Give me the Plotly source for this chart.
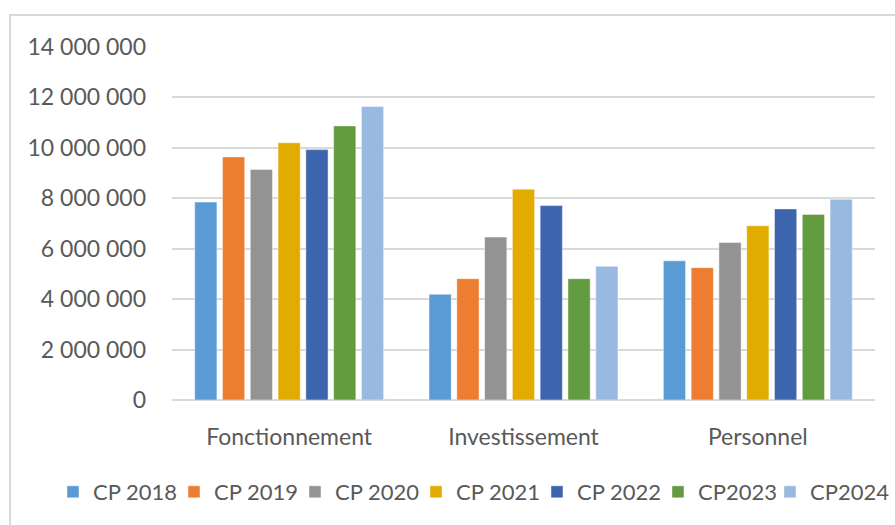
import plotly.graph_objects as go

categories = ["Fonctionnement", "Investissement", "Personnel"]
series_names = ["CP 2018", "CP 2019", "CP 2020", "CP 2021", "CP 2022", "CP2023", "CP2024"]
cp2018 = [7850000, 4190000, 5520000]
cp2019 = [9640000, 4810000, 5250000]
cp2020 = [9140000, 6460000, 6250000]
cp2021 = [10200000, 8360000, 6910000]
cp2022 = [9930000, 7710000, 7580000]
cp2023 = [10870000, 4810000, 7360000]
cp2024 = [11640000, 5300000, 7960000]
series_values = [cp2018, cp2019, cp2020, cp2021, cp2022, cp2023, cp2024]
colors = ["#5B9BD5", "#ED7D31", "#939393", "#E2AB00", "#3D65AE", "#629B40", "#98BAE0"]
legend_widths = [76, 76, 76, 76, 76, 67, 82]

tick_vals = [0, 2000000, 4000000, 6000000, 8000000, 10000000, 12000000, 14000000]

FONT = "Lato"
TXT = "#595959"

fig = go.Figure()
for name, vals, col, lw in zip(series_names, series_values, colors, legend_widths):
    fig.add_trace(go.Bar(
        name=name, x=categories, y=vals, legendwidth=lw,
        marker=dict(color=col, line=dict(color="rgba(255,255,255,0.45)", width=1)),
    ))

fig.update_layout(
    width=895, height=525,
    margin=dict(l=172, r=20, t=47, b=125, autoexpand=False),
    paper_bgcolor="white", plot_bgcolor="white",
    barmode="group", bargap=0.17, bargroupgap=0.2,
    separators=", ",
    font=dict(family=FONT, color=TXT, size=23),
    showlegend=True,
    legend=dict(orientation="h", x=-0.1693, xanchor="left", y=-0.2606, yanchor="middle",
                font=dict(family=FONT, size=22, color=TXT),
                itemwidth=30, traceorder="normal", bgcolor="rgba(0,0,0,0)"),
    shapes=[dict(type="rect", xref="paper", yref="paper", x0=-0.2304, x1=1.05, y0=-0.42, y1=1.0907,
                 line=dict(color="#D9D9D9", width=2), layer="below")],
)
fig.update_yaxes(range=[0, 14000000], tickvals=tick_vals, tickformat=",d",
                 showgrid=True, gridcolor="#D9D9D9", gridwidth=2,
                 zeroline=True, zerolinecolor="#D9D9D9", zerolinewidth=2,
                 showline=False, ticks="", ticklabelstandoff=25, automargin=False,
                 tickfont=dict(family=FONT, size=23, color=TXT))
fig.update_xaxes(showline=False, ticks="", ticklabelstandoff=21, automargin=False,
                 tickfont=dict(family=FONT, size=23, color=TXT))

fig.write_html("out.html", config={"displayModeBar": False},
               post_script="document.body.style.margin='0';")
